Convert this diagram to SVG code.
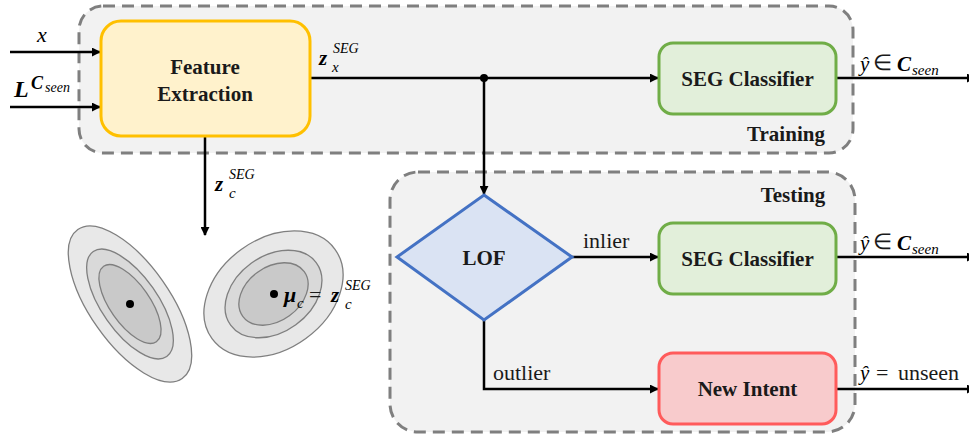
<svg xmlns="http://www.w3.org/2000/svg" width="969" height="438" viewBox="0 0 969 438">
<style>
.grp{fill:#F2F2F2;stroke:#7F7F7F;stroke-width:3;stroke-dasharray:12 7}
.lbl{font-family:"Liberation Serif","Times New Roman",serif;font-weight:bold;font-size:21px;fill:#1a1a1a;text-anchor:middle}
.txt{font-family:"Liberation Serif","Times New Roman",serif;font-size:22px;fill:#1a1a1a}
.m{font-family:"Liberation Serif","DejaVu Serif",serif;font-style:italic;fill:#000}
.edge{stroke:#000;stroke-width:2.5;fill:none}
.ell{stroke:#7F7F7F;stroke-width:1.3}
</style>
<defs>
<marker id="ah" viewBox="0 0 10 10" refX="9" refY="5" markerWidth="9" markerHeight="9" markerUnits="userSpaceOnUse" orient="auto">
<path d="M0,0 L10,5 L0,10 z" fill="#000"/>
</marker>
</defs>

<g id="training-group">
<rect class="grp" x="79" y="6" width="774" height="147" rx="24"/>
<text class="lbl" x="786" y="141">Training</text>
</g>
<g id="testing-group">
<rect class="grp" x="390" y="172" width="465" height="260" rx="28"/>
<text class="lbl" x="793" y="202">Testing</text>
</g>

<g id="connectors">
<line class="edge" x1="10" y1="52" x2="100" y2="52" marker-end="url(#ah)"/>
<line class="edge" x1="10" y1="107" x2="100" y2="107" marker-end="url(#ah)"/>
<line class="edge" x1="310" y1="78" x2="658" y2="78" marker-end="url(#ah)"/>
<circle cx="484" cy="78" r="4" fill="#000"/>
<line class="edge" x1="484" y1="78" x2="484" y2="194" marker-end="url(#ah)"/>
<line class="edge" x1="836" y1="78" x2="975" y2="78" marker-end="url(#ah)"/>
<line class="edge" x1="205" y1="137" x2="205" y2="235" marker-end="url(#ah)"/>
<line class="edge" x1="572" y1="257" x2="658" y2="257" marker-end="url(#ah)"/>
<polyline class="edge" points="484,320 484,389 658,389" marker-end="url(#ah)"/>
<line class="edge" x1="836" y1="257" x2="975" y2="257" marker-end="url(#ah)"/>
<line class="edge" x1="836" y1="389" x2="975" y2="389" marker-end="url(#ah)"/>
</g>

<g id="feature-extraction">
<rect x="101" y="21" width="209" height="115" rx="20" fill="#FFF2CC" stroke="#FFC000" stroke-width="3"/>
<text class="lbl" x="205" y="74" font-size="22">Feature</text>
<text class="lbl" x="205" y="101" font-size="22">Extraction</text>
</g>

<g id="seg-classifier-train">
<rect x="659" y="43" width="177" height="71" rx="14" fill="#E2EFDA" stroke="#70AD47" stroke-width="3"/>
<text class="lbl" x="747.5" y="86">SEG Classifier</text>
</g>

<g id="lof">
<polygon points="484,195 572,257 484,320 397,257" fill="#DAE3F3" stroke="#4472C4" stroke-width="3"/>
<text class="lbl" x="484" y="265">LOF</text>
</g>

<g id="seg-classifier-test">
<rect x="659" y="223" width="177" height="71" rx="14" fill="#E2EFDA" stroke="#70AD47" stroke-width="3"/>
<text class="lbl" x="747.5" y="266">SEG Classifier</text>
</g>

<g id="new-intent">
<rect x="659" y="353" width="177" height="71" rx="14" fill="#F8CBCC" stroke="#FF5B5B" stroke-width="3"/>
<text class="lbl" x="747.5" y="396">New Intent</text>
</g>

<g id="clusters">
<g transform="translate(130,304) rotate(55)">
<ellipse class="ell" rx="91" ry="40" fill="#E8E8E8"/>
<ellipse class="ell" rx="64" ry="28" fill="#D9D9D9"/>
<ellipse class="ell" rx="46" ry="20" fill="#C9C9C9"/>
</g>
<circle cx="130" cy="304" r="4" fill="#000"/>
<g transform="translate(273.5,294) rotate(-36)">
<ellipse class="ell" rx="76" ry="55" fill="#E8E8E8"/>
<ellipse class="ell" rx="53" ry="38" fill="#D9D9D9"/>
<ellipse class="ell" rx="38" ry="27" fill="#C9C9C9"/>
</g>
<circle cx="274" cy="294" r="4" fill="#000"/>
</g>

<g id="labels">
<text class="m" x="37" y="42" font-size="22">x</text>
<text class="m" x="14" y="97" font-size="24" font-weight="bold">L</text>
<text class="m" x="31" y="89" font-size="18" font-weight="bold">C</text>
<text class="m" x="45" y="92" font-size="14">seen</text>

<text class="m" x="319" y="65" font-size="21" font-weight="bold">z</text>
<text class="m" x="332" y="72" font-size="15">x</text>
<text class="m" x="333" y="53" font-size="14">SEG</text>

<text class="m" x="215" y="191" font-size="21" font-weight="bold">z</text>
<text class="m" x="229" y="198" font-size="15">c</text>
<text class="m" x="229" y="179" font-size="14">SEG</text>

<text class="m" x="284" y="302" font-size="22" font-weight="bold">μ</text>
<text class="m" x="297" y="308" font-size="15">c</text>
<text class="txt" x="309" y="302" font-size="22">=</text>
<text class="m" x="331" y="302" font-size="21" font-weight="bold">z</text>
<text class="m" x="345" y="309" font-size="15">c</text>
<text class="m" x="345" y="290" font-size="14">SEG</text>

<text class="m" x="860" y="71" font-size="21">ŷ</text>
<text class="txt" x="873" y="70" font-size="17">∈</text>
<text class="m" x="897" y="71" font-size="21" font-weight="bold">C</text>
<text class="m" x="912" y="75" font-size="15">seen</text>

<text class="m" x="860" y="250" font-size="21">ŷ</text>
<text class="txt" x="873" y="249" font-size="17">∈</text>
<text class="m" x="897" y="250" font-size="21" font-weight="bold">C</text>
<text class="m" x="912" y="254" font-size="15">seen</text>

<text class="m" x="860" y="380" font-size="21">ŷ</text>
<text class="txt" x="876" y="380" font-size="21">=</text>
<text class="txt" x="898" y="380" font-size="21">unseen</text>

<text class="txt" x="583" y="248">inlier</text>
<text class="txt" x="493" y="380">outlier</text>
</g>
</svg>
